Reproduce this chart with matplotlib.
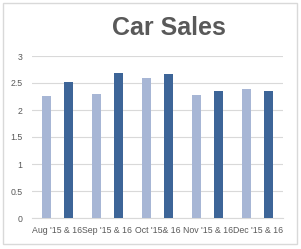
import matplotlib
matplotlib.use("Agg")
import matplotlib.pyplot as plt
import matplotlib.patches as mpatches
import numpy as np

# Chart data
months = ["Aug '15 & 16", "Sep '15 & 16", "Oct '15& 16", "Nov '15 & 16", "Dec '15 & 16"]
sales_2015 = [2.25, 2.29, 2.60, 2.27, 2.38]
sales_2016 = [2.51, 2.68, 2.66, 2.36, 2.35]
y_ticks = [0, 0.5, 1, 1.5, 2, 2.5, 3]

LIGHT = "#A7B6D5"
DARK = "#3D6598"
TEXT = "#595959"
GRID = "#D9D9D9"

W, H = 301, 249
fig = plt.figure(figsize=(W / 100, H / 100), dpi=100)
fig.patch.set_facecolor("white")

# chart border
fig.patches.append(mpatches.Rectangle(
    (3 / W, 5 / H), 294 / W, 241 / H, transform=fig.transFigure,
    fill=False, edgecolor="#D9D9D9", linewidth=1.0))

ax = fig.add_axes([32 / W, (H - 218) / H, 251 / W, 162 / H])

x = np.arange(len(months))
bw = 0.18
ax.bar(x - 0.22, sales_2015, width=bw, color=LIGHT, zorder=3)
ax.bar(x + 0.22, sales_2016, width=bw, color=DARK, zorder=3)

ax.set_xlim(-0.5, len(months) - 0.5)
ax.set_ylim(0, 3)
ax.set_yticks(y_ticks)
ax.set_yticklabels([f"{v:g}" for v in y_ticks], fontsize=6.3, color=TEXT,
                   family="Liberation Sans")
ax.set_xticks(x)
ax.set_xticklabels(months, fontsize=6.3, color=TEXT, family="Liberation Sans")
ax.tick_params(length=0, pad=6)
ax.tick_params(axis="y", pad=7)

ax.grid(axis="y", color=GRID, linewidth=0.8, zorder=0)
for s in ["top", "right", "left"]:
    ax.spines[s].set_visible(False)
ax.spines["bottom"].set_color(GRID)
ax.spines["bottom"].set_linewidth(0.8)

fig.text(169 / W, 1 - 28 / H, "Car Sales", ha="center", va="center",
         fontsize=18, fontweight="bold", color=TEXT, family="Liberation Sans")

fig.savefig("out.png", dpi=100, facecolor="white")
